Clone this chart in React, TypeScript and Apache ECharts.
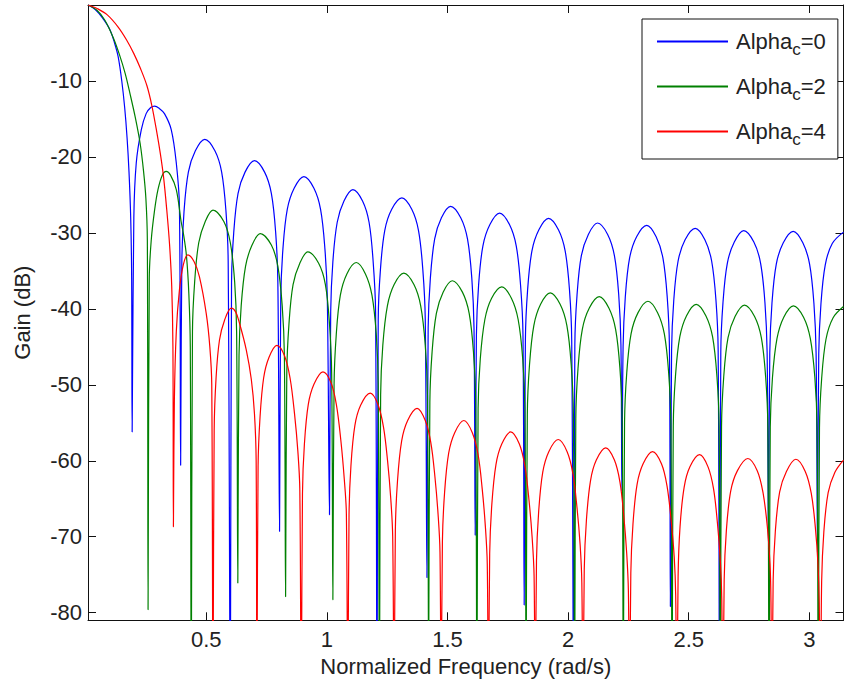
import React, { useEffect, useRef } from "react";
import * as echarts from "echarts";

const FONT = "'Liberation Sans', Arial, Helvetica, sans-serif";

const seriesNames = ["Alpha_c=0", "Alpha_c=2", "Alpha_c=4"];
const seriesColors = ["#0000ff", "#008000", "#ff0000"];

const xTicks = [0.5, 1, 1.5, 2, 2.5, 3];
const yTicks = [-80, -70, -60, -50, -40, -30, -20, -10];

// Alpha_c = 0 (blue)
const blueCurve: [number, number][] = [
  [0.011, 0], [0.04, -0.6], [0.07, -1.7], [0.1, -3.2], [0.12, -5], [0.135, -6.8], [0.15, -10], [0.162, -13.5], [0.172, -17.5], [0.18, -22], [0.187, -28], [0.191, -36], [0.193, -56.2],
  [0.2, -28], [0.21, -20.8], [0.231, -16.4], [0.251, -14.3], [0.27, -13.5], [0.286, -13.3], [0.305, -13.6], [0.327, -14.3], [0.355, -16.4], [0.376, -20.8], [0.389, -26.5], [0.394, -60.6],
  [0.399, -33.7], [0.408, -27.2], [0.426, -22.0], [0.455, -19.2], [0.494, -17.7], [0.536, -19.2], [0.564, -22.0], [0.582, -27.2], [0.591, -33.7], [0.6, -95],
  [0.605, -36.5], [0.614, -30.0], [0.632, -24.8], [0.661, -22.0], [0.7, -20.5], [0.742, -22.0], [0.77, -24.8], [0.788, -30.0], [0.797, -36.5], [0.804, -69.3],
  [0.809, -38.6], [0.818, -32.1], [0.836, -26.9], [0.865, -24.1], [0.905, -22.6], [0.946, -24.1], [0.974, -26.9], [0.992, -32.1], [1.002, -38.6], [1.011, -67.1],
  [1.016, -40.3], [1.025, -33.8], [1.043, -28.6], [1.071, -25.8], [1.108, -24.3], [1.148, -25.8], [1.175, -28.6], [1.192, -33.8], [1.202, -40.3], [1.208, -95],
  [1.213, -41.4], [1.222, -34.9], [1.24, -29.7], [1.269, -26.9], [1.311, -25.4], [1.352, -26.9], [1.38, -29.7], [1.398, -34.9], [1.408, -41.4], [1.415, -75.4],
  [1.42, -42.5], [1.429, -36.0], [1.447, -30.8], [1.475, -28.0], [1.513, -26.5], [1.555, -28.0], [1.583, -30.8], [1.601, -36.0], [1.61, -42.5], [1.615, -69.8],
  [1.62, -43.4], [1.629, -36.9], [1.647, -31.7], [1.676, -28.9], [1.716, -27.4], [1.757, -28.9], [1.785, -31.7], [1.803, -36.9], [1.813, -43.4], [1.818, -79],
  [1.823, -44.1], [1.832, -37.6], [1.85, -32.4], [1.879, -29.6], [1.919, -28.1], [1.96, -29.6], [1.988, -32.4], [2.006, -37.6], [2.015, -44.1], [2.023, -95],
  [2.028, -44.7], [2.037, -38.2], [2.055, -33.0], [2.084, -30.2], [2.122, -28.7], [2.164, -30.2], [2.192, -33.0], [2.21, -38.2], [2.219, -44.7], [2.223, -64],
  [2.228, -45.0], [2.237, -38.5], [2.255, -33.3], [2.284, -30.5], [2.326, -29.0], [2.365, -30.5], [2.393, -33.3], [2.411, -38.5], [2.42, -45.0], [2.424, -79.2],
  [2.429, -45.4], [2.438, -38.9], [2.456, -33.7], [2.485, -30.9], [2.527, -29.4], [2.567, -30.9], [2.595, -33.7], [2.613, -38.9], [2.622, -45.4], [2.628, -95],
  [2.633, -45.7], [2.642, -39.2], [2.66, -34.0], [2.689, -31.2], [2.728, -29.7], [2.77, -31.2], [2.798, -34.0], [2.816, -39.2], [2.825, -45.7], [2.831, -72],
  [2.836, -45.8], [2.845, -39.3], [2.863, -34.1], [2.892, -31.3], [2.933, -29.8], [2.973, -31.3], [3.001, -34.1], [3.019, -39.3], [3.028, -45.8], [3.034, -72],
  [3.039, -45.9], [3.048, -39.4], [3.066, -34.2], [3.095, -31.4], [3.1416, -29.9],
];

// Alpha_c = 2 (green)
const greenCurve: [number, number][] = [
  [0.011, 0], [0.047, -0.7], [0.08, -2.0], [0.116, -4.4], [0.14, -6.5], [0.164, -9.0], [0.185, -11.8], [0.206, -14.8], [0.226, -18.2], [0.24, -21.8], [0.25, -25.5], [0.256, -31], [0.259, -79.6],
  [0.264, -36], [0.272, -31], [0.286, -27.0], [0.3, -24.3], [0.318, -22.4], [0.334, -21.9], [0.352, -22.4], [0.376, -24.3], [0.396, -28.5], [0.405, -30], [0.418, -33], [0.428, -38], [0.434, -45], [0.438, -95],
  [0.443, -43], [0.452, -36.5], [0.469, -31.3], [0.496, -28.5], [0.528, -27.0], [0.573, -28.5], [0.6, -31.3], [0.618, -36.5], [0.626, -43], [0.631, -76.1],
  [0.636, -46.1], [0.645, -39.6], [0.663, -34.4], [0.69, -31.6], [0.724, -30.1], [0.77, -31.6], [0.797, -34.4], [0.815, -39.6], [0.824, -46.1], [0.829, -77.9],
  [0.834, -48.5], [0.843, -42.0], [0.86, -36.8], [0.888, -34.0], [0.921, -32.5], [0.966, -34.0], [0.994, -36.8], [1.011, -42.0], [1.02, -48.5], [1.025, -78.3],
  [1.03, -49.9], [1.039, -43.4], [1.056, -38.2], [1.083, -35.4], [1.122, -33.9], [1.16, -35.4], [1.187, -38.2], [1.205, -43.4], [1.213, -49.9], [1.218, -95],
  [1.223, -51.3], [1.232, -44.8], [1.251, -39.6], [1.279, -36.8], [1.319, -35.3], [1.361, -36.8], [1.389, -39.6], [1.408, -44.8], [1.417, -51.3], [1.422, -88],
  [1.427, -52.3], [1.436, -45.8], [1.454, -40.6], [1.482, -37.8], [1.52, -36.3], [1.562, -37.8], [1.59, -40.6], [1.608, -45.8], [1.617, -52.3], [1.622, -95],
  [1.627, -53.1], [1.636, -46.6], [1.655, -41.4], [1.683, -38.6], [1.725, -37.1], [1.765, -38.6], [1.793, -41.4], [1.812, -46.6], [1.821, -53.1], [1.826, -90],
  [1.831, -53.9], [1.84, -47.4], [1.858, -42.2], [1.886, -39.4], [1.926, -37.9], [1.967, -39.4], [1.995, -42.2], [2.013, -47.4], [2.022, -53.9], [2.027, -95],
  [2.032, -54.4], [2.041, -47.9], [2.059, -42.7], [2.088, -39.9], [2.129, -38.4], [2.169, -39.9], [2.197, -42.7], [2.215, -47.9], [2.224, -54.4], [2.229, -92],
  [2.234, -55.0], [2.243, -48.5], [2.261, -43.3], [2.29, -40.5], [2.331, -39.0], [2.371, -40.5], [2.399, -43.3], [2.417, -48.5], [2.426, -55.0], [2.431, -95],
  [2.436, -55.4], [2.445, -48.9], [2.463, -43.7], [2.491, -40.9], [2.531, -39.4], [2.571, -40.9], [2.599, -43.7], [2.617, -48.9], [2.626, -55.4], [2.631, -95],
  [2.636, -55.5], [2.645, -49.0], [2.663, -43.8], [2.692, -41.0], [2.731, -39.5], [2.773, -41.0], [2.801, -43.8], [2.819, -49.0], [2.828, -55.5], [2.833, -95],
  [2.838, -55.6], [2.847, -49.1], [2.866, -43.9], [2.894, -41.1], [2.934, -39.6], [2.976, -41.1], [3.004, -43.9], [3.023, -49.1], [3.032, -55.6], [3.037, -95],
  [3.042, -55.7], [3.051, -49.2], [3.069, -44.0], [3.098, -41.2], [3.1416, -39.7],
];

// Alpha_c = 4 (red)
const redCurve: [number, number][] = [
  [0.011, 0], [0.05, -0.5], [0.09, -1.3], [0.135, -2.9], [0.17, -4.6], [0.2, -6.4], [0.228, -8.4], [0.254, -10.6], [0.275, -13.3], [0.296, -16.9], [0.31, -19.6], [0.323, -22.6], [0.336, -26.8], [0.348, -31.5], [0.357, -37], [0.362, -45], [0.364, -68.7],
  [0.368, -52], [0.376, -43], [0.389, -37.5], [0.405, -34.2], [0.424, -32.9], [0.45, -33.8], [0.472, -35.8], [0.5, -40.6], [0.515, -45], [0.523, -50], [0.528, -95],
  [0.533, -56], [0.541, -49], [0.555, -44.1], [0.576, -41.5], [0.604, -39.9], [0.622, -40.4], [0.638, -41.9], [0.666, -45.4], [0.687, -49.3], [0.7, -53.8], [0.707, -60], [0.71, -95],
  [0.715, -60.8], [0.723, -54.3], [0.738, -49.1], [0.76, -46.4], [0.793, -44.8], [0.825, -46.2], [0.848, -49.2], [0.866, -53.8], [0.88, -58.8], [0.888, -63.8], [0.894, -95],
  [0.899, -64.3], [0.907, -57.8], [0.923, -52.6], [0.947, -49.9], [0.984, -48.3], [1.017, -49.7], [1.04, -52.7], [1.058, -57.3], [1.072, -62.3], [1.081, -67], [1.087, -95],
  [1.092, -67.1], [1.1, -60.6], [1.116, -55.4], [1.14, -52.7], [1.18, -51.1], [1.212, -52.6], [1.235, -55.6], [1.252, -60.1], [1.265, -65], [1.273, -70], [1.279, -95],
  [1.284, -69.1], [1.293, -62.6], [1.31, -57.4], [1.335, -54.7], [1.374, -53.1], [1.408, -54.7], [1.431, -57.6], [1.448, -62.1], [1.461, -67], [1.469, -72], [1.474, -95],
  [1.479, -70.7], [1.488, -64.2], [1.505, -59.0], [1.53, -56.3], [1.568, -54.7], [1.603, -56.3], [1.627, -59.2], [1.644, -63.7], [1.657, -68.6], [1.665, -73.6], [1.67, -95],
  [1.675, -72.2], [1.684, -65.7], [1.701, -60.5], [1.725, -57.8], [1.762, -56.2], [1.798, -57.8], [1.821, -60.7], [1.838, -65.2], [1.851, -70.1], [1.859, -75.1], [1.864, -95],
  [1.869, -73.2], [1.878, -66.7], [1.895, -61.5], [1.92, -58.8], [1.959, -57.2], [1.996, -58.8], [2.02, -61.7], [2.037, -66.2], [2.05, -71.1], [2.057, -76.1], [2.062, -95],
  [2.067, -74.3], [2.076, -67.8], [2.093, -62.6], [2.117, -59.9], [2.156, -58.3], [2.192, -59.9], [2.215, -62.8], [2.231, -67.3], [2.243, -72.2], [2.25, -77.2], [2.255, -95],
  [2.26, -74.8], [2.269, -68.3], [2.286, -63.1], [2.311, -60.4], [2.35, -58.8], [2.387, -60.4], [2.41, -63.3], [2.427, -67.8], [2.44, -72.7], [2.446, -77.7], [2.451, -95],
  [2.456, -75.2], [2.464, -68.7], [2.481, -63.5], [2.505, -60.8], [2.545, -59.2], [2.58, -60.8], [2.603, -63.7], [2.619, -68.2], [2.631, -73.1], [2.637, -78.1], [2.642, -95],
  [2.647, -75.7], [2.656, -69.2], [2.674, -64.0], [2.702, -61.3], [2.745, -59.7], [2.784, -61.3], [2.808, -64.2], [2.826, -68.7], [2.837, -73.6], [2.841, -78.6], [2.845, -95],
  [2.85, -75.8], [2.859, -69.3], [2.877, -64.1], [2.905, -61.4], [2.944, -59.8], [2.983, -61.4], [3.008, -64.3], [3.025, -68.8], [3.036, -73.7], [3.041, -78.7], [3.046, -95],
  [3.051, -75.9], [3.06, -69.4], [3.078, -64.2], [3.106, -61.5], [3.1416, -59.9],
];

const curves = [blueCurve, greenCurve, redCurve];

const X_MIN = 0.01;
const X_MAX = Math.PI;
const Y_MIN = -81;
const Y_MAX = 0;

export default function App() {
  const ref = useRef<HTMLDivElement>(null);

  useEffect(() => {
    if (!ref.current) return;
    const chart = echarts.init(ref.current, null, { renderer: "svg" });
    const axisColor = "#111";
    const labelColor = "#222";

    const baseX = {
      type: "value",
      min: X_MIN,
      max: X_MAX,
      splitLine: { show: false },
      axisLine: { show: true, onZero: false, lineStyle: { color: axisColor, width: 1 } },
      axisTick: { show: true, inside: true, length: 8, customValues: xTicks, lineStyle: { color: axisColor, width: 1 } },
    };
    const baseY = {
      type: "value",
      min: Y_MIN,
      max: Y_MAX,
      splitLine: { show: false },
      axisLine: { show: true, onZero: false, lineStyle: { color: axisColor, width: 1 } },
      axisTick: { show: true, inside: true, length: 8, customValues: yTicks, lineStyle: { color: axisColor, width: 1 } },
    };

    chart.setOption({
      animation: false,
      backgroundColor: "#ffffff",
      textStyle: { fontFamily: FONT },
      grid: { left: 88, right: 2.5, top: 5, bottom: 67.7, containLabel: false },
      xAxis: [
        {
          ...baseX,
          position: "bottom",
          axisLabel: {
            customValues: xTicks,
            margin: 8,
            fontSize: 22,
            color: labelColor,
            fontFamily: FONT,
            formatter: (v: number) => String(v),
          },
          name: "Normalized Frequency (rad/s)",
          nameLocation: "middle",
          nameGap: 33,
          nameTextStyle: { fontSize: 22, color: labelColor, fontFamily: FONT },
        },
        { ...baseX, position: "top", axisLabel: { show: false } },
      ],
      yAxis: [
        {
          ...baseY,
          position: "left",
          axisLabel: {
            customValues: yTicks,
            margin: 6,
            fontSize: 22,
            color: labelColor,
            fontFamily: FONT,
            formatter: (v: number) => String(v),
          },
          name: "Gain (dB)",
          nameLocation: "middle",
          nameGap: 55,
          nameTextStyle: { fontSize: 22, color: labelColor, fontFamily: FONT },
        },
        { ...baseY, position: "right", axisLabel: { show: false } },
      ],
      legend: {
        orient: "vertical",
        left: 642,
        top: 19,
        padding: [6, 12, 11, 14],
        itemWidth: 71,
        itemHeight: 14,
        itemGap: 12,
        backgroundColor: "#ffffff",
        borderColor: "#111",
        borderWidth: 1,
        borderRadius: 0,
        itemStyle: { opacity: 0, color: "transparent", borderWidth: 0 },
        data: seriesNames,
        formatter: (name: string) => {
          const [base, rest] = name.split("_");
          const sub = rest.slice(0, 1);
          const tail = rest.slice(1);
          return `{b|${base}}{s|${sub}}{a|${tail}}`;
        },
        textStyle: {
          fontFamily: FONT,
          color: labelColor,
          rich: {
            b: { fontSize: 22, lineHeight: 26, padding: [0, 0, 0, 3], color: labelColor, fontFamily: FONT, verticalAlign: "middle" },
            a: { fontSize: 22, lineHeight: 26, color: labelColor, fontFamily: FONT, verticalAlign: "middle" },
            s: { fontSize: 17, lineHeight: 20, padding: [16, 0, 0, 0], color: labelColor, fontFamily: FONT, verticalAlign: "middle" },
          },
        },
      },
      series: curves.map((data, i) => ({
        name: seriesNames[i],
        type: "line",
        xAxisIndex: 0,
        yAxisIndex: 0,
        data,
        symbol: "none",
        showSymbol: false,
        smooth: 0.35,
        clip: true,
        lineStyle: { color: seriesColors[i], width: 1.2 },
        itemStyle: { color: seriesColors[i] },
        emphasis: { disabled: true },
      })),
    });

    return () => chart.dispose();
  }, []);

  return (
    <div
      ref={ref}
      style={{ position: "fixed", left: 0, top: 0, width: 846, height: 688, background: "#fff" }}
    />
  );
}
